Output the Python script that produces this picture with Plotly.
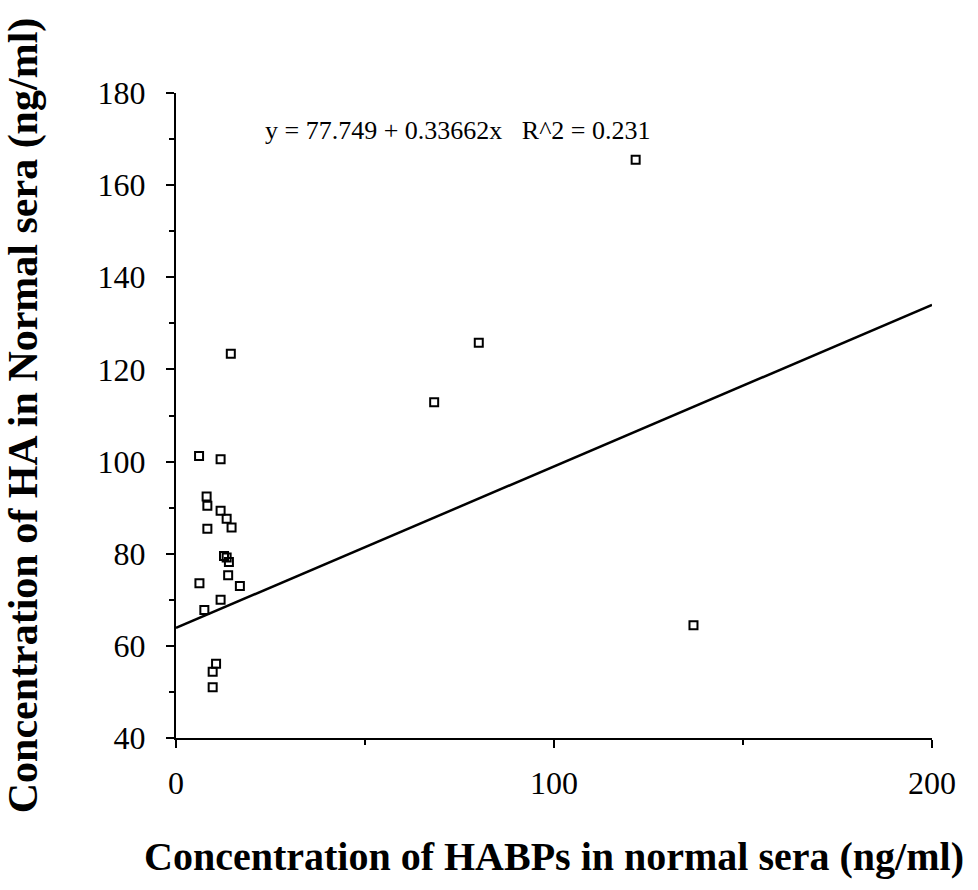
import plotly.graph_objects as go

# Data
habp_x = [6.1, 11.8, 8.1, 8.3, 11.8, 13.4, 14.7, 8.3, 12.7, 13.4, 14.0, 13.8,
          6.2, 16.9, 11.8, 7.5, 10.6, 9.7, 9.7, 14.5, 68.3, 80.1, 121.6, 136.9]
ha_y = [101.2, 100.5, 92.4, 90.4, 89.3, 87.6, 85.7, 85.4, 79.5, 79.2, 78.2, 75.3,
        73.6, 73.0, 70.0, 67.8, 56.1, 54.4, 51.0, 123.4, 112.9, 125.8, 165.5, 64.5]

# Fitted line as drawn in the reference (end points)
fit_x = [0, 200]
fit_y = [63.9, 134.0]

x_ticks = [0, 100, 200]
y_ticks = [40, 60, 80, 100, 120, 140, 160, 180]

equation_text = "y = 77.749 + 0.33662x   R^2 = 0.231"
x_title = "Concentration of HABPs in normal sera (ng/ml)"
y_title = "Concentration of HA in Normal sera (ng/ml)"

fig = go.Figure()
fig.add_trace(go.Scatter(
    x=fit_x, y=fit_y, mode="lines",
    line=dict(color="black", width=2.5),
    showlegend=False, cliponaxis=False,
))
fig.add_trace(go.Scatter(
    x=habp_x, y=ha_y, mode="markers",
    marker=dict(symbol="square-open", size=8, color="black",
                line=dict(width=2, color="black")),
    showlegend=False, cliponaxis=False,
))

fig.add_annotation(
    x=23, y=171.8, xref="x", yref="y", text=equation_text,
    showarrow=False, xanchor="left", yanchor="middle",
    font=dict(family="Liberation Serif", size=26, color="black"),
)

axis_common = dict(
    showgrid=False, zeroline=False, showline=True, linecolor="black", linewidth=2,
    ticks="outside", ticklen=8, tickwidth=2, tickcolor="black",
    tickfont=dict(family="Liberation Serif", size=32, color="black"),
)

fig.update_xaxes(
    range=[0, 200], tickvals=x_ticks, ticktext=[str(v) for v in x_ticks],
    minor=dict(dtick=50, ticks="outside", ticklen=5, tickwidth=2, tickcolor="black"),
    title=dict(text=x_title, standoff=42,
               font=dict(family="Liberation Serif", size=40, color="black", weight="bold")),
    ticklabelstandoff=8,
    **axis_common,
)
fig.update_yaxes(
    range=[40, 180], tickvals=y_ticks, ticktext=[str(v) for v in y_ticks],
    minor=dict(dtick=10, ticks="outside", ticklen=5, tickwidth=2, tickcolor="black"),
    title=dict(text=y_title, standoff=48,
               font=dict(family="Liberation Serif", size=42, color="black", weight="bold")),
    ticklabelstandoff=14,
    **axis_common,
)

fig.update_layout(
    width=978, height=890,
    margin=dict(l=176, r=46, t=93, b=152),
    plot_bgcolor="white", paper_bgcolor="white",
)

fig.write_html("out.html")
